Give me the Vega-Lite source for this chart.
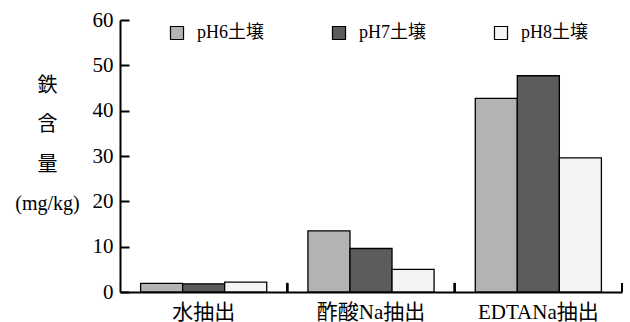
{
  "$schema": "https://vega.github.io/schema/vega-lite/v6.json",
  "width": 502,
  "height": 272,
  "autosize": {"type": "none"},
  "padding": {"left": 120, "top": 20, "right": 8, "bottom": 30},
  "background": "white",
  "config": {
    "font": "'Liberation Serif', 'Noto Sans CJK JP', serif",
    "view": {"stroke": null},
    "axis": {"labelFont": "'Liberation Serif', 'Noto Sans CJK JP', serif", "titleFont": "'Liberation Serif', 'Noto Sans CJK JP', serif"},
    "legend": {"labelFont": "'Liberation Serif', 'Noto Sans CJK JP', serif"}
  },
  "data": {
    "values": [
      {"method": "水抽出", "soil": "pH6土壌", "iron": 1.9},
      {"method": "水抽出", "soil": "pH7土壌", "iron": 1.8},
      {"method": "水抽出", "soil": "pH8土壌", "iron": 2.2},
      {"method": "酢酸Na抽出", "soil": "pH6土壌", "iron": 13.5},
      {"method": "酢酸Na抽出", "soil": "pH7土壌", "iron": 9.6},
      {"method": "酢酸Na抽出", "soil": "pH8土壌", "iron": 5.0},
      {"method": "EDTANa抽出", "soil": "pH6土壌", "iron": 42.7},
      {"method": "EDTANa抽出", "soil": "pH7土壌", "iron": 47.7},
      {"method": "EDTANa抽出", "soil": "pH8土壌", "iron": 29.6}
    ]
  },
  "layer": [
    {
      "mark": {"type": "bar", "stroke": "black", "strokeWidth": 1.3},
      "encoding": {
        "x": {
          "field": "method",
          "type": "nominal",
          "sort": ["水抽出", "酢酸Na抽出", "EDTANa抽出"],
          "scale": {"paddingInner": 0, "paddingOuter": 0},
          "axis": {
            "title": null,
            "labelAngle": 0,
            "labelFontSize": 21,
            "labelColor": "black",
            "labelPadding": 9,
            "ticks": false,
            "domainColor": "black",
            "domainWidth": 2
          }
        },
        "xOffset": {
          "field": "soil",
          "type": "nominal",
          "scale": {"paddingInner": 0, "paddingOuter": 0.49}
        },
        "y": {
          "field": "iron",
          "type": "quantitative",
          "scale": {"domain": [0, 60]},
          "axis": {
            "values": [0, 10, 20, 30, 40, 50, 60],
            "grid": false,
            "tickSize": -9,
            "tickColor": "black",
            "tickWidth": 2,
            "labelPadding": 16,
            "labelFontSize": 21,
            "labelColor": "black",
            "domainColor": "black",
            "domainWidth": 2,
            "title": ["鉄", "含", "量", "(mg/kg)"],
            "titleAngle": 0,
            "titleFontSize": 20,
            "titleFontWeight": "normal",
            "titleColor": "black",
            "titleLineHeight": 39.5,
            "titleAlign": "center",
            "titleBaseline": "top",
            "titleX": -73,
            "titleY": 55
          }
        },
        "fill": {
          "field": "soil",
          "type": "nominal",
          "scale": {
            "domain": ["pH6土壌", "pH7土壌", "pH8土壌"],
            "range": ["#b3b3b3", "#5c5c5c", "#f4f4f4"]
          },
          "legend": {
            "title": null,
            "orient": "none",
            "legendX": 48,
            "legendY": 4,
            "direction": "horizontal",
            "columns": 3,
            "symbolType": "square",
            "symbolSize": 170,
            "symbolStrokeColor": "black",
            "symbolStrokeWidth": 1.2,
            "labelFontSize": 18,
            "labelColor": "black",
            "labelOffset": 11,
            "columnPadding": 66
          }
        }
      }
    },
    {
      "mark": {"type": "rule", "color": "black", "strokeWidth": 2},
      "encoding": {
        "x": {
          "field": "method",
          "type": "nominal",
          "sort": ["水抽出", "酢酸Na抽出", "EDTANa抽出"],
          "bandPosition": 1
        },
        "y": {"datum": 0},
        "y2": {"datum": 2}
      }
    }
  ]
}
